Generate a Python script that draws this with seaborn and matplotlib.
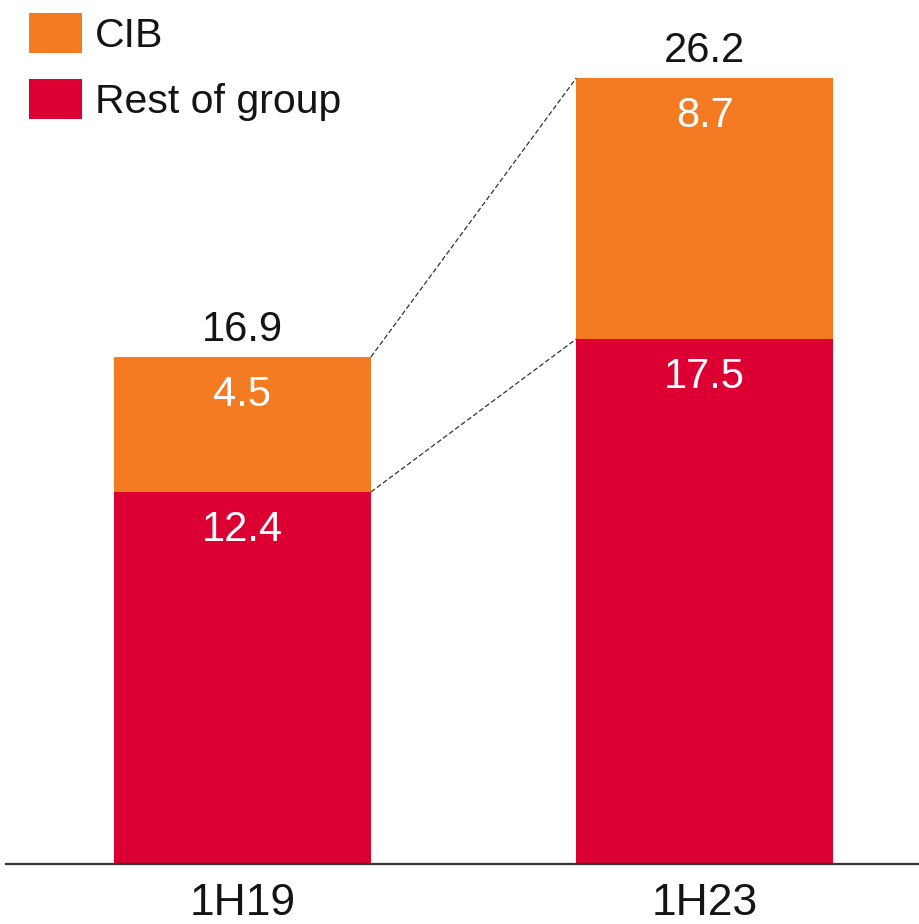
import matplotlib
matplotlib.use("Agg")
import matplotlib.pyplot as plt
from matplotlib.patches import Patch
import seaborn as sns
import pandas as pd

periods = ["1H19", "1H23"]
cib = [4.5, 8.7]
rest_of_group = [12.4, 17.5]
totals = [16.9, 26.2]

ORANGE = "#F47B22"
RED = "#DC0032"
INK = "#141414"

sns.set_style("white")
plt.rcParams["font.family"] = ["Liberation Sans", "DejaVu Sans"]

df = pd.DataFrame({"period": periods, "cib": cib, "rest": rest_of_group, "total": totals})

fig = plt.figure(figsize=(9.19, 9.24), dpi=100)
ax = fig.add_axes([6 / 919, 60 / 924, 913 / 919, 864 / 924])

bar_w = 0.556
sns.barplot(data=df, x="period", y="total", color=ORANGE, width=bar_w,
            saturation=1, ax=ax, linewidth=0)
sns.barplot(data=df, x="period", y="rest", color=RED, width=bar_w,
            saturation=1, ax=ax, linewidth=0)

ax.set_xlim(-0.511, 1.463)
ax.set_ylim(0, 28.8)

# dashed connectors between the two bars
for a, b in [(totals[0], totals[1]), (rest_of_group[0], rest_of_group[1])]:
    ax.plot([bar_w / 2, 1 - bar_w / 2], [a, b], color="#333333", lw=0.9,
            linestyle=(0, (4, 2)), zorder=3)

for i in range(len(periods)):
    ax.annotate(f"{totals[i]:.1f}", (i, totals[i]), xytext=(0, 19.5),
                textcoords="offset points", ha="center", va="center",
                fontsize=30, color=INK)
    ax.annotate(f"{cib[i]:.1f}", (i, totals[i]), xytext=(0, -27.5),
                textcoords="offset points", ha="center", va="center",
                fontsize=30, color="white")
    ax.annotate(f"{rest_of_group[i]:.1f}", (i, rest_of_group[i]), xytext=(0, -27.5),
                textcoords="offset points", ha="center", va="center",
                fontsize=30, color="white")

ax.set_xlabel("")
ax.set_ylabel("")
ax.set_yticks([])
ax.tick_params(axis="x", length=0, pad=14)
for lbl in ax.get_xticklabels():
    lbl.set_fontsize(32)
    lbl.set_color(INK)

for side in ["top", "left", "right"]:
    ax.spines[side].set_visible(False)
ax.spines["bottom"].set_color("#333333")
ax.spines["bottom"].set_linewidth(1.6)

handles = [Patch(facecolor=ORANGE, edgecolor="none", label="CIB"),
           Patch(facecolor=RED, edgecolor="none", label="Rest of group")]
fig.legend(handles=handles, loc="upper left",
           bbox_to_anchor=(29 / 919, 1 - 13 / 924), frameon=False,
           fontsize=29.5, handlelength=1.29, handleheight=1.125,
           handletextpad=0.32, labelspacing=0.60, borderpad=0,
           borderaxespad=0, labelcolor=INK)

fig.savefig("out.png", dpi=100)
